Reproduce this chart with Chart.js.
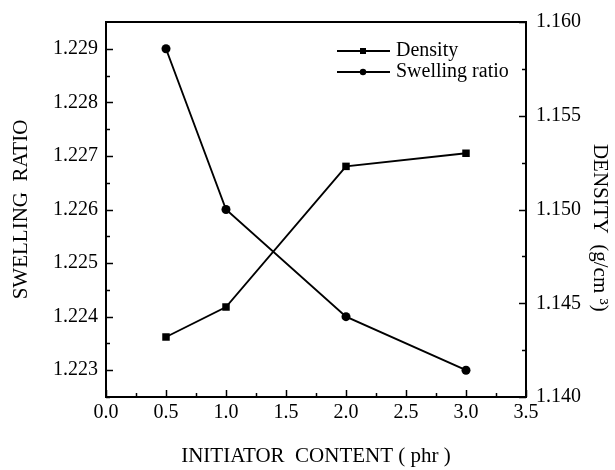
<!DOCTYPE html>
<html><head><meta charset="utf-8">
<script src="https://cdn.jsdelivr.net/npm/chart.js@4"></script>
<style>html,body{margin:0;padding:0;background:#fff;overflow:hidden}</style>
</head><body>
<canvas id="c" width="615" height="470"></canvas>
<script>
// ---- data ----
const initiatorContent = [0.5, 1.0, 2.0, 3.0];
const densityValues = [1.1432, 1.1448, 1.1523, 1.1530];
const swellingValues = [1.2290, 1.2260, 1.2240, 1.2230];
const xTickValues = [0.0, 0.5, 1.0, 1.5, 2.0, 2.5, 3.0, 3.5];
const swellingTickValues = [1.223, 1.224, 1.225, 1.226, 1.227, 1.228, 1.229];
const densityTickValues = [1.140, 1.145, 1.150, 1.155, 1.160];
const xMinorTickValues = [0.25, 0.75, 1.25, 1.75, 2.25, 2.75, 3.25];
const swellingMinorTickValues = [1.2225, 1.2235, 1.2245, 1.2255, 1.2265, 1.2275, 1.2285];
const densityMinorTickValues = [1.1425, 1.1475, 1.1525, 1.1575];
const seriesLabels = ['Density', 'Swelling ratio'];
const xTitle = 'INITIATOR  CONTENT ( phr )';
const leftTitle = 'SWELLING  RATIO';
const rightTitle = '       DENSITY  (g/cm \u00b3)';

const FONT = 'Liberation Serif, Times New Roman, serif';
const font20 = {family: FONT, size: 20};

const toPts = (xs, ys) => xs.map((x, i) => ({x: x, y: ys[i]}));

const innerTicks = {
  id: 'innerTicks',
  afterDraw(chart) {
    const ctx = chart.ctx;
    const a = chart.chartArea;
    ctx.save();
    ctx.strokeStyle = '#000';
    ctx.lineWidth = 2;
    ctx.strokeRect(a.left, a.top, a.right - a.left, a.bottom - a.top);
    ctx.lineWidth = 1.5;
    const sx = chart.scales.x, sl = chart.scales.ySw, sr = chart.scales.yDen;
    const draw = (vals, len, fn) => vals.forEach(v => { ctx.beginPath(); fn(v, len); ctx.stroke(); });
    const xt = (v, len) => { const p = Math.round(sx.getPixelForValue(v)) + 0.5; ctx.moveTo(p, a.bottom); ctx.lineTo(p, a.bottom - len); };
    const lt = (v, len) => { const p = Math.round(sl.getPixelForValue(v)) + 0.5; ctx.moveTo(a.left, p); ctx.lineTo(a.left + len, p); };
    const rt = (v, len) => { const p = Math.round(sr.getPixelForValue(v)) + 0.5; ctx.moveTo(a.right, p); ctx.lineTo(a.right - len, p); };
    draw(xTickValues, 7, xt); draw(xMinorTickValues, 4, xt);
    draw(swellingTickValues, 7, lt); draw(swellingMinorTickValues, 4, lt);
    draw(densityTickValues, 7, rt); draw(densityMinorTickValues, 4, rt);
    ctx.restore();
  }
};

const customLegend = {
  id: 'customLegend',
  afterDraw(chart) {
    const ctx = chart.ctx;
    ctx.save();
    ctx.fillStyle = '#000'; ctx.strokeStyle = '#000'; ctx.lineWidth = 1.8;
    ctx.font = '20px ' + FONT;
    ctx.textBaseline = 'alphabetic';
    const rows = [{base: 56, style: 'rect'}, {base: 77, style: 'circle'}];
    chart.data.datasets.forEach((ds, i) => {
      const r = rows[i];
      const ly = r.base - 5;
      ctx.beginPath(); ctx.moveTo(337, ly); ctx.lineTo(390, ly); ctx.stroke();
      if (r.style === 'rect') ctx.fillRect(360, ly - 3, 6, 6);
      else { ctx.beginPath(); ctx.arc(363, ly, 3.2, 0, Math.PI * 2); ctx.fill(); }
      ctx.fillText(ds.label, 396, r.base);
    });
    ctx.restore();
  }
};

new Chart(document.getElementById('c'), {
  type: 'line',
  data: {
    datasets: [
      {label: seriesLabels[0], data: toPts(initiatorContent, densityValues), yAxisID: 'yDen',
       borderColor: '#000', backgroundColor: '#000', borderWidth: 1.9, pointStyle: 'rect',
       pointRadius: 5.3, pointBorderWidth: 0, tension: 0},
      {label: seriesLabels[1], data: toPts(initiatorContent, swellingValues), yAxisID: 'ySw',
       borderColor: '#000', backgroundColor: '#000', borderWidth: 1.9, pointStyle: 'circle',
       pointRadius: 4.5, pointBorderWidth: 0, tension: 0}
    ]
  },
  options: {
    responsive: false, animation: false, devicePixelRatio: 1,
    layout: {padding: {top: 20, left: 0, right: 0, bottom: 0}},
    plugins: {legend: {display: false}, tooltip: {enabled: false}},
    scales: {
      x: {
        type: 'linear', position: 'bottom', min: 0, max: 3.5,
        afterBuildTicks: s => { s.ticks = xTickValues.map(v => ({value: v})); },
        afterFit: s => { s.height = 73; },
        ticks: {callback: v => Number(v).toFixed(1), font: font20, color: '#000', padding: 4, maxRotation: 0, autoSkip: false},
        grid: {display: false, drawTicks: false},
        border: {display: true, color: '#000', width: 2},
        title: {display: true, text: xTitle, font: {family: FONT, size: 21}, color: '#000', padding: {top: 0, bottom: 1}}
      },
      ySw: {
        type: 'linear', position: 'left', min: 1.2225, max: 1.2295,
        afterBuildTicks: s => { s.ticks = swellingTickValues.map(v => ({value: v})); },
        afterFit: s => { s.width = 106; },
        ticks: {callback: v => Number(v).toFixed(3), font: font20, color: '#000', padding: 8, autoSkip: false},
        grid: {display: false, drawTicks: false},
        border: {display: true, color: '#000', width: 2},
        title: {display: true, text: leftTitle, font: {family: FONT, size: 21}, color: '#000', padding: {top: 9, bottom: 0}}
      },
      yDen: {
        type: 'linear', position: 'right', min: 1.140, max: 1.160,
        afterBuildTicks: s => { s.ticks = densityTickValues.map(v => ({value: v})); },
        afterFit: s => { s.width = 89; },
        ticks: {callback: v => Number(v).toFixed(3), font: font20, color: '#000', padding: 10, autoSkip: false},
        grid: {display: false, drawTicks: false},
        border: {display: true, color: '#000', width: 2},
        title: {display: true, text: rightTitle, font: {family: FONT, size: 21}, color: '#000', padding: {top: 3, bottom: 0}}
      }
    }
  },
  plugins: [innerTicks, customLegend]
});
</script>
</body></html>
